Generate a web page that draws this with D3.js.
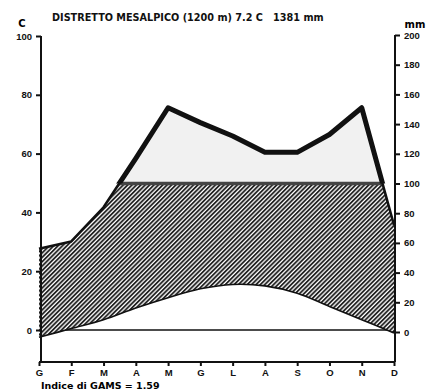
<!DOCTYPE html>
<html>
<head>
<meta charset="utf-8">
<script src="https://cdn.jsdelivr.net/npm/d3@7"></script>
<style>
  body { margin: 0; background: #fff; }
  svg { display: block; font-family: "DejaVu Sans", sans-serif; }
</style>
</head>
<body>
<svg id="chart" width="436" height="391"></svg>
<script>
const months = ["G", "F", "M", "A", "M", "G", "L", "A", "S", "O", "N", "D"];
const temperature = [-2.5, 0.5, 3.5, 7.5, 11, 14, 15.5, 15, 12.5, 8, 3.5, -1];
const precipitation = [56, 61, 84, 117, 151, 141, 132, 121, 121, 133, 151, 72];
const tempTicks = [0, 20, 40, 60, 80, 100];
const precTicks = [0, 20, 40, 60, 80, 100, 120, 140, 160, 180, 200];
const title = "DISTRETTO MESALPICO (1200 m) 7.2 C   1381 mm";
const gamsLabel = "Indice di GAMS = 1.59";

function renderClimate() {
  const svg = d3.select("#chart");
  svg.selectAll("*").remove();

  const left = 41, right = 395, bottom = 362;

  const x = d3.scalePoint().domain(d3.range(months.length)).range([39, 394]);
  const yT = d3.scaleLinear().domain([0, 100]).range([330, 36]);
  const yP = d3.scaleLinear().domain([0, 200]).range([332, 35]);

  const defs = svg.append("defs");

  const hatch = defs.append("pattern")
    .attr("id", "hatch")
    .attr("patternUnits", "userSpaceOnUse")
    .attr("width", 3.1).attr("height", 3.1)
    .attr("patternTransform", "rotate(45)");
  hatch.append("rect").attr("width", 3.1).attr("height", 3.1).attr("fill", "#fff");
  hatch.append("line")
    .attr("x1", 1).attr("y1", -1).attr("x2", 1).attr("y2", 5)
    .attr("stroke", "#111").attr("stroke-width", 1.7);

  // area below the rain line, used as a clip
  const rainArea = d3.area()
    .x((d, i) => x(i))
    .y0(bottom)
    .y1(d => yP(d));
  defs.append("clipPath").attr("id", "underRain")
    .append("path").attr("d", rainArea(precipitation));

  defs.append("clipPath").attr("id", "above100")
    .append("rect").attr("x", 0).attr("y", 0).attr("width", 436).attr("height", yP(100));

  // zero line
  svg.append("line")
    .attr("x1", left).attr("x2", right)
    .attr("y1", yT(0)).attr("y2", yT(0))
    .attr("stroke", "#111").attr("stroke-width", 1.6);

  // hatched humid period: between temperature curve and min(rain, 100)
  const tempArea = d3.area()
    .x((d, i) => x(i))
    .y0(yP(100))
    .y1(d => yT(d))
    .curve(d3.curveCatmullRom);
  svg.append("g").attr("clip-path", "url(#underRain)")
    .append("path")
    .attr("d", tempArea(temperature))
    .attr("fill", "url(#hatch)");

  // rain above 100 mm
  svg.append("g").attr("clip-path", "url(#above100)")
    .append("path")
    .attr("d", rainArea(precipitation))
    .attr("fill", "#f1f1f1");

  svg.append("g").attr("clip-path", "url(#underRain)")
    .append("line")
    .attr("x1", left).attr("x2", right)
    .attr("y1", yP(100)).attr("y2", yP(100))
    .attr("stroke", "#444").attr("stroke-width", 3.5);

  // temperature curve
  const tempLine = d3.line()
    .x((d, i) => x(i))
    .y(d => yT(d))
    .curve(d3.curveCatmullRom);
  svg.append("path")
    .attr("d", tempLine(temperature))
    .attr("fill", "none")
    .attr("stroke", "#111")
    .attr("stroke-width", 1.6);

  // rain line
  const rainLine = d3.line()
    .x((d, i) => x(i))
    .y(d => yP(d));
  svg.append("path")
    .attr("d", rainLine(precipitation))
    .attr("fill", "none")
    .attr("stroke", "#111")
    .attr("stroke-width", 2.5)
    .attr("stroke-linejoin", "round");
  svg.append("g").attr("clip-path", "url(#above100)")
    .append("path")
    .attr("d", rainLine(precipitation))
    .attr("fill", "none")
    .attr("stroke", "#111")
    .attr("stroke-width", 5)
    .attr("stroke-linejoin", "round");

  // frame below zero
  svg.append("line")
    .attr("x1", left).attr("x2", left)
    .attr("y1", yT(100)).attr("y2", bottom)
    .attr("stroke", "#111").attr("stroke-width", 2);
  svg.append("line")
    .attr("x1", right).attr("x2", right)
    .attr("y1", yP(200)).attr("y2", bottom)
    .attr("stroke", "#111").attr("stroke-width", 2);

  // axes
  const axisL = svg.append("g")
    .attr("transform", `translate(${left},0)`)
    .call(d3.axisLeft(yT).tickValues(tempTicks).tickSize(5).tickPadding(4));
  const axisR = svg.append("g")
    .attr("transform", `translate(${right},0)`)
    .call(d3.axisRight(yP).tickValues(precTicks).tickSize(5).tickPadding(4));
  const axisB = svg.append("g")
    .attr("transform", `translate(0,${bottom})`)
    .call(d3.axisBottom(x).tickFormat(i => months[i]).tickSize(4).tickPadding(3));

  [axisL, axisR, axisB].forEach(a => {
    a.select(".domain").remove();
    a.selectAll(".tick line").attr("stroke", "#111").attr("stroke-width", 2);
    a.selectAll("text")
      .attr("fill", "#111")
      .attr("font-size", "9.5px")
      .attr("font-weight", "bold");
  });
  svg.append("line")
    .attr("x1", 39).attr("x2", 395)
    .attr("y1", bottom).attr("y2", bottom)
    .attr("stroke", "#111").attr("stroke-width", 2);

  // labels
  svg.append("text")
    .attr("x", 52).attr("y", 21)
    .attr("font-size", "9.7px")
    .attr("font-weight", "bold")
    .attr("fill", "#111")
    .attr("xml:space", "preserve")
    .text(title);
  svg.append("text")
    .attr("x", 22).attr("y", 27)
    .attr("text-anchor", "middle")
    .attr("font-size", "10px").attr("font-weight", "bold")
    .text("C");
  svg.append("text")
    .attr("x", 415).attr("y", 28)
    .attr("text-anchor", "middle")
    .attr("font-size", "10px").attr("font-weight", "bold")
    .text("mm");
  svg.append("text")
    .attr("x", 41).attr("y", 389)
    .attr("font-size", "9.5px").attr("font-weight", "bold")
    .text(gamsLabel);
}

renderClimate();
</script>
</body>
</html>
